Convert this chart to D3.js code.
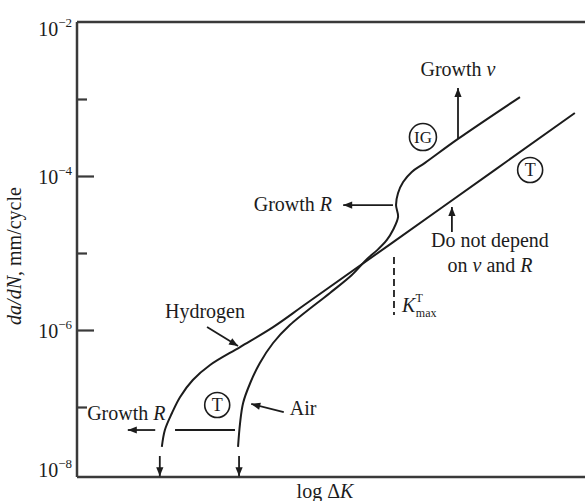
<!DOCTYPE html>
<html>
<head>
<meta charset="utf-8">
<script src="https://cdnjs.cloudflare.com/ajax/libs/d3/7.8.5/d3.min.js"></script>
<style>
    body { margin: 0; background: #fff; }
    text { font-family: "Liberation Serif", "Times New Roman", serif; fill: #1c1c1c; }
</style>
</head>
<body>
<div id="my_dataviz"></div>
<script>
// crack growth curves, x = log dK (arbitrary units), y = da/dN mm/cycle
const hydrogenLogK = [1.67, 1.73, 1.87, 2.03, 2.28, 2.62, 3.21, 3.86, 4.53, 7.17, 9.80];
const hydrogenRate = [3.03e-8, 5.03e-8, 8.36e-8, 1.35e-7, 2.24e-7, 3.51e-7, 6.01e-7, 1.09e-6, 2.24e-6, 3.84e-5, 6.58e-4];

const airLogK = [3.17, 3.21, 3.27, 3.41, 3.60, 3.86, 4.19, 4.98, 5.41, 5.71, 5.91, 6.10, 6.22, 6.32, 6.28, 6.32, 6.42, 6.59, 6.85, 7.50, 8.72];
const airRate = [3.03e-8, 6.19e-8, 1.13e-7, 2.05e-7, 3.73e-7, 6.78e-7, 1.16e-6, 3.03e-6, 5.18e-6, 8.36e-6, 1.09e-5, 1.48e-5, 1.99e-5, 2.94e-5, 4.20e-5, 6.01e-5, 8.36e-5, 1.13e-4, 1.48e-4, 3.03e-4, 1.06e-3];

const majorTicks = [1e-2, 1e-4, 1e-6, 1e-8];
const minorTicks = [1e-3, 1e-5, 1e-7];
const tickExponents = ["\u22122", "\u22124", "\u22126", "\u22128"];

// set the dimensions and margins of the graph
const margin = { top: 22, right: 0, bottom: 24, left: 77 },
    width = 585 - margin.left - margin.right,
    height = 501 - margin.top - margin.bottom;

const svg = d3.select("#my_dataviz")
    .append("svg")
    .attr("width", width + margin.left + margin.right)
    .attr("height", height + margin.top + margin.bottom)
    .append("g")
    .attr("transform", `translate(${margin.left}, ${margin.top})`);

const x = d3.scaleLinear().domain([0, 10]).range([0, width]);
const y = d3.scaleLog().domain([1e-8, 1e-2]).range([height + 7, 0]);

// annotation position helper (logK, exponent of da/dN)
const P = (u, e) => [x(u), y(Math.pow(10, e))];

// arrow head
svg.append("defs").append("marker")
    .attr("id", "arrow")
    .attr("viewBox", "0 -5 10 10")
    .attr("refX", 10)
    .attr("refY", 0)
    .attr("markerUnits", "userSpaceOnUse")
    .attr("markerWidth", 10)
    .attr("markerHeight", 9)
    .attr("orient", "auto")
    .append("path")
    .attr("d", "M0,-4L10,0L0,4Z")
    .attr("fill", "#1c1c1c");

// frame
const spine = "#3a3a3a";
svg.append("line").attr("x1", 0).attr("x2", width).attr("y1", 0).attr("y2", 0)
    .attr("stroke", spine).attr("stroke-width", 2.5);
svg.append("line").attr("x1", 0).attr("x2", width).attr("y1", height).attr("y2", height)
    .attr("stroke", spine).attr("stroke-width", 2.5);
svg.append("line").attr("x1", 0).attr("x2", 0).attr("y1", 0).attr("y2", height)
    .attr("stroke", spine).attr("stroke-width", 2.5);

// Y axis ticks
const yMajor = svg.append("g")
    .call(d3.axisLeft(y).tickValues(majorTicks.filter(d => d > 1e-8 && d < 1e-2)).tickSize(-17).tickFormat(""));
const yMinor = svg.append("g")
    .call(d3.axisLeft(y).tickValues(minorTicks).tickSize(-10).tickFormat(""));
svg.selectAll(".domain").remove();
svg.selectAll(".tick line").attr("stroke", spine).attr("stroke-width", 2.2);

// tick labels 10^-n
majorTicks.forEach((v, i) => {
    const yy = Math.min(Math.max(y(v) + 8, 14), height);
    const t = svg.append("text")
        .attr("x", -5)
        .attr("y", yy)
        .attr("text-anchor", "end")
        .style("font-size", "20px");
    t.append("tspan").text("10");
    t.append("tspan").attr("dy", -9).style("font-size", "13px").text(tickExponents[i]);
});

// Y axis label
const yl = svg.append("text")
    .attr("text-anchor", "middle")
    .attr("transform", `translate(-56, 234) rotate(-90)`)
    .style("font-size", "20px");
yl.append("tspan").style("font-style", "italic").text("da/dN");
yl.append("tspan").text(", mm/cycle");

// X axis label
const xl = svg.append("text")
    .attr("x", 248)
    .attr("y", height + 21)
    .attr("text-anchor", "middle")
    .style("font-size", "20px");
xl.append("tspan").text("log \u0394");
xl.append("tspan").style("font-style", "italic").text("K");

// curves
const line = d3.line()
    .x(d => x(d[0]))
    .y(d => y(d[1]))
    .curve(d3.curveCatmullRom.alpha(0.5));

svg.append("path")
    .datum(hydrogenLogK.map((k, i) => [k, hydrogenRate[i]]))
    .attr("d", line)
    .attr("fill", "none")
    .attr("stroke", "#1c1c1c")
    .attr("stroke-width", 2);

svg.append("path")
    .datum(airLogK.map((k, i) => [k, airRate[i]]))
    .attr("d", line)
    .attr("fill", "none")
    .attr("stroke", "#1c1c1c")
    .attr("stroke-width", 2);

// arrows
const arrows = [
    [[7.50, -3.519], [7.50, -2.857]],
    [[6.22, -4.377], [5.24, -4.377]],
    [[7.38, -4.727], [7.38, -4.403]],
    [[2.56, -5.961], [3.17, -6.208]],
    [[4.07, -7.065], [3.43, -6.961]],
    [[1.54, -7.299], [1.00, -7.299]],
    [[1.63, -7.636], [1.63, -7.90]],
    [[3.19, -7.636], [3.19, -7.90]]
];
arrows.forEach(a => {
    const p0 = P(a[0][0], a[0][1]), p1 = P(a[1][0], a[1][1]);
    svg.append("line")
        .attr("x1", p0[0]).attr("y1", p0[1])
        .attr("x2", p1[0]).attr("y2", p1[1])
        .attr("stroke", "#1c1c1c")
        .attr("stroke-width", 1.8)
        .attr("marker-end", "url(#arrow)");
});

// plain segment of lower Growth R line
const s0 = P(3.11, -7.299), s1 = P(1.93, -7.299);
svg.append("line").attr("x1", s0[0]).attr("y1", s0[1]).attr("x2", s1[0]).attr("y2", s1[1])
    .attr("stroke", "#1c1c1c").attr("stroke-width", 1.8);

// K max dashed line
const d0 = P(6.24, -5.052), d1 = P(6.24, -5.805);
svg.append("line").attr("x1", d0[0]).attr("y1", d0[1]).attr("x2", d1[0]).attr("y2", d1[1])
    .attr("stroke", "#1c1c1c").attr("stroke-width", 1.8).attr("stroke-dasharray", "7,4");

// text labels
const labels = [
    { u: 7.50, e: -2.701, anchor: "middle", parts: [["Growth ", 0], ["v", 1]] },
    { u: 5.02, e: -4.455, anchor: "end", parts: [["Growth ", 0], ["R", 1]] },
    { u: 8.13, e: -4.922, anchor: "middle", parts: [["Do not depend", 0]] },
    { u: 8.13, e: -5.247, anchor: "middle", parts: [["on ", 0], ["v", 1], [" and ", 0], ["R", 1]] },
    { u: 2.52, e: -5.844, anchor: "middle", parts: [["Hydrogen", 0]] },
    { u: 4.19, e: -7.104, anchor: "start", parts: [["Air", 0]] },
    { u: 0.20, e: -7.169, anchor: "start", parts: [["Growth ", 0], ["R", 1]] }
];
labels.forEach(l => {
    const p = P(l.u, l.e);
    const t = svg.append("text")
        .attr("x", p[0]).attr("y", p[1])
        .attr("text-anchor", l.anchor)
        .style("font-size", "20px");
    l.parts.forEach(q => {
        t.append("tspan").style("font-style", q[1] ? "italic" : "normal").text(q[0]);
    });
});

// K^T_max
const kp = P(6.40, -5.766);
const kt = svg.append("text").attr("x", kp[0]).attr("y", kp[1]).style("font-size", "20px");
kt.append("tspan").style("font-style", "italic").text("K");
kt.append("tspan").attr("dy", -10).style("font-size", "12px").text("T");
kt.append("tspan").attr("dx", -7).attr("dy", 15).style("font-size", "12px").text("max");

// circled markers
const circled = [
    { u: 6.81, e: -3.494, t: "IG", r: 13.5 },
    { u: 8.92, e: -3.922, t: "T", r: 12.5 },
    { u: 2.76, e: -6.974, t: "T", r: 12.5 }
];
circled.forEach(c => {
    const p = P(c.u, c.e);
    svg.append("circle")
        .attr("cx", p[0]).attr("cy", p[1]).attr("r", c.r)
        .attr("fill", "#fff")
        .attr("stroke", "#1c1c1c")
        .attr("stroke-width", 1.6);
    svg.append("text")
        .attr("x", p[0]).attr("y", p[1])
        .attr("dy", "0.35em")
        .attr("text-anchor", "middle")
        .style("font-size", c.t == "IG" ? "17px" : "18px")
        .text(c.t);
});
</script>
</body>
</html>
